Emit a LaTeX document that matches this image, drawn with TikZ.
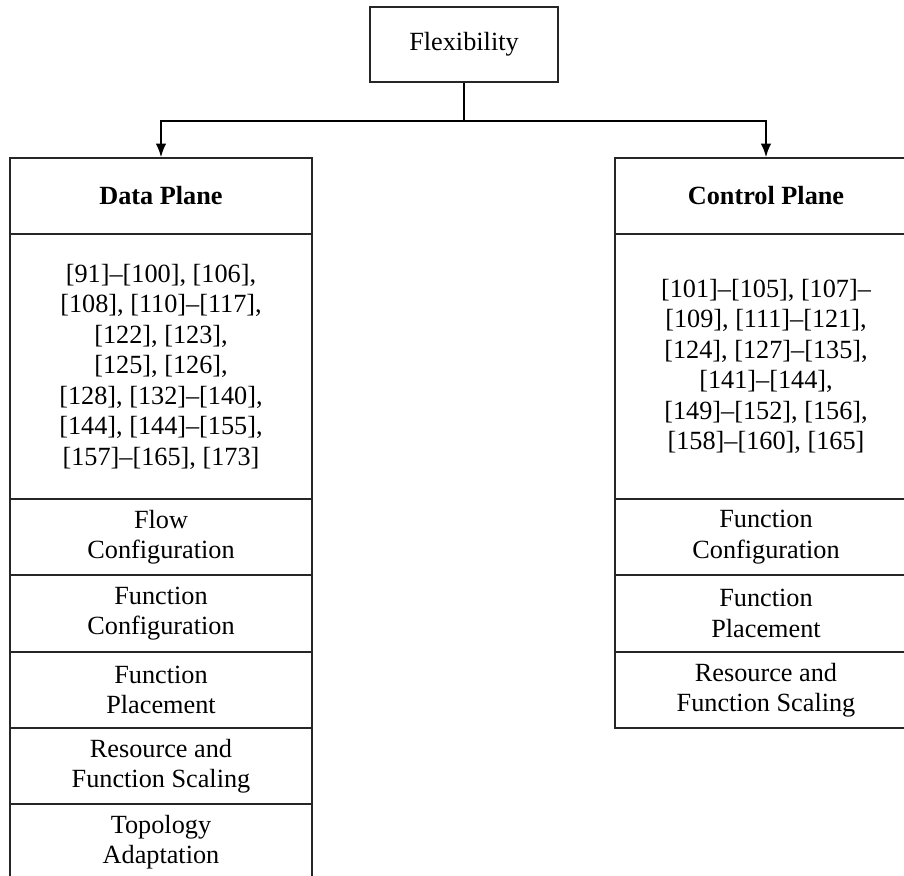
\documentclass[tikz,border=0pt]{standalone}
\usepackage{fontspec}
\setmainfont{Liberation Serif}
\usetikzlibrary{arrows.meta}

\begin{document}
\begin{tikzpicture}[x=0.4pt,y=-0.4pt,
  cell/.style={draw=black!85, line width=0.45pt, inner sep=0pt,
    minimum width=120.8pt, align=center, font=\fontsize{10.5}{12.2}\selectfont},
  shortcell/.style={cell, minimum height=30.4pt},
  headcell/.style={cell, minimum height=30.4pt, font=\fontsize{10.5}{12.2}\selectfont\bfseries},
  refcell/.style={cell, minimum height=106pt},
  link/.style={line width=0.9pt, black},
  arrowlink/.style={link, -{Latex[length=5.5pt,width=4.2pt]}}]

\useasboundingbox (0,0) rectangle (904,875);
\clip (0,0) rectangle (904,875);

% root
\node[cell, minimum width=75.2pt, minimum height=30pt] (flex) at (464,44.5) {Flexibility};
\coordinate (split) at (464,121);

% data plane column
\node[headcell]  (dhead)  at (161,196)   {Data Plane};
\node[refcell]   (drefs)  at (161,366.5) {{[91]--[100], [106],}\\{}{[108], [110]--[117],}\\{}{[122], [123],}\\{}{[125], [126],}\\{}{[128], [132]--[140],}\\{}{[144], [144]--[155],}\\{}{[157]--[165], [173]}};
\node[shortcell] (dflow)  at (161,537)   {Flow\\Configuration};
\node[shortcell] (dconf)  at (161,613.5) {Function\\Configuration};
\node[shortcell] (dplace) at (161,690)   {Function\\Placement};
\node[shortcell] (dscale) at (161,766)   {Resource and\\Function Scaling};
\node[shortcell] (dtopo)  at (161,842)   {Topology\\Adaptation};

% control plane column
\node[headcell]  (chead)  at (766,196)   {Control Plane};
\node[refcell]   (crefs)  at (766,366.5) {{[101]--[105], [107]--}\\{}{[109], [111]--[121],}\\{}{[124], [127]--[135],}\\{}{[141]--[144],}\\{}{[149]--[152], [156],}\\{}{[158]--[160], [165]}};
\node[shortcell] (cconf)  at (766,537)   {Function\\Configuration};
\node[shortcell] (cplace) at (766,613.5) {Function\\Placement};
\node[shortcell] (cscale) at (766,690)   {Resource and\\Function Scaling};

% connectors
\draw[link] (flex.south) -- (split);
\draw[arrowlink] (split) -| (dhead.north);
\draw[arrowlink] (split) -| (chead.north);
\end{tikzpicture}
\end{document}
